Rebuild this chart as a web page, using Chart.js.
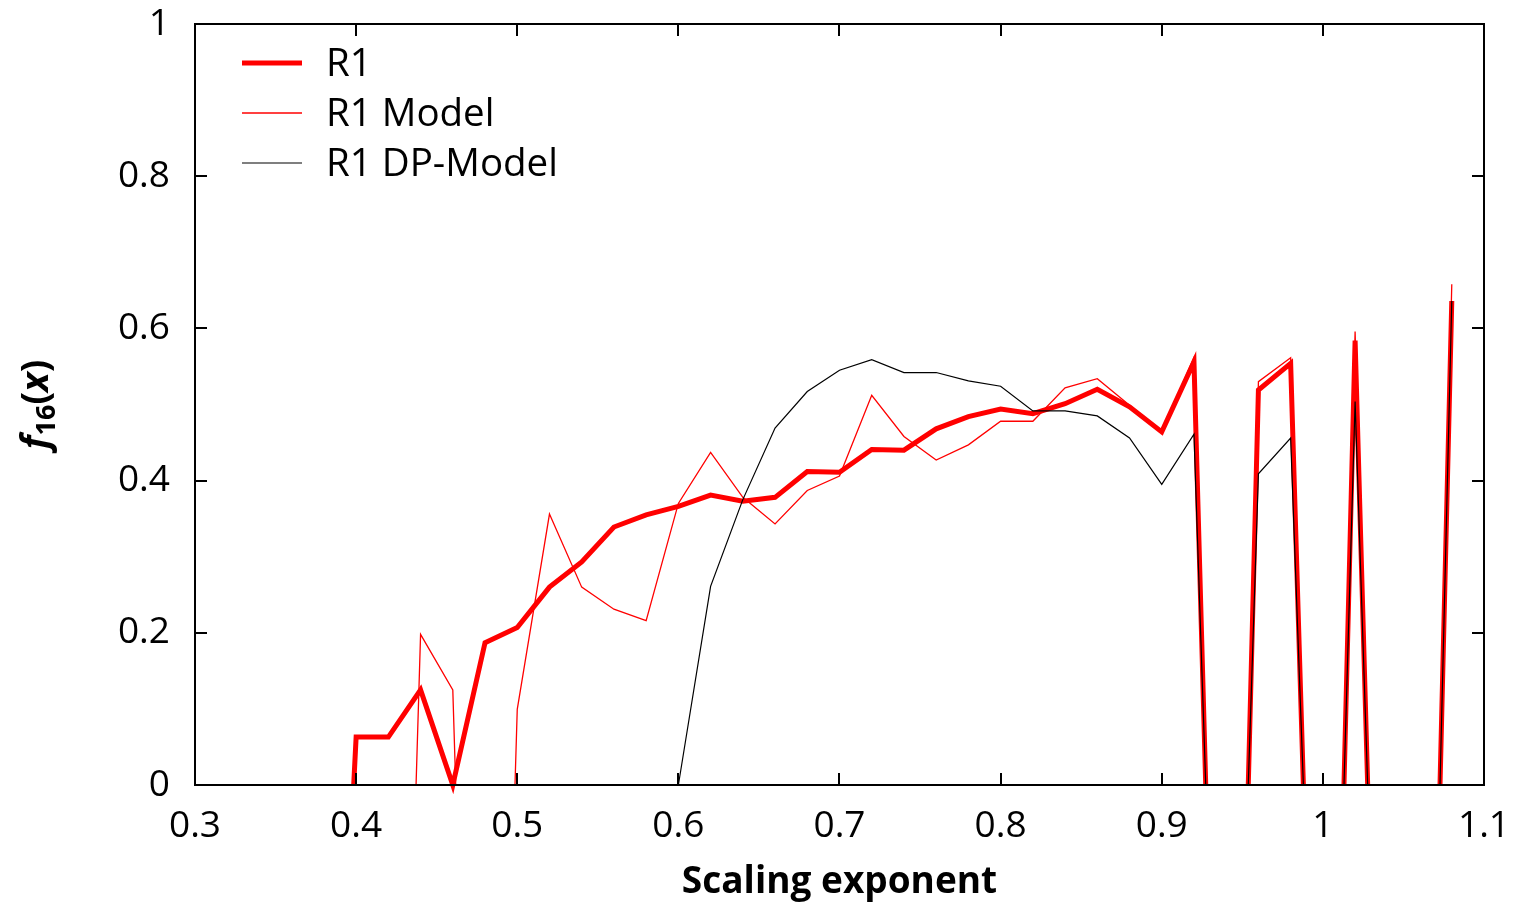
<!DOCTYPE html>
<html lang="en">
<head>
  <meta charset="UTF-8" />
  <title>f16(x) vs scaling exponent</title>
  <script src="https://cdn.jsdelivr.net/npm/chart.js"></script>
  <style>
    body {
      margin: 0;
      background: #fff;
    }
    #wrap {
      width: 1522px;
      height: 906px;
      position: relative;
    }
  </style>
</head>
<body>
  <div id="wrap">
    <canvas id="chart"></canvas>
  </div>

  <script>
    const xTicks = [0.3, 0.4, 0.5, 0.6, 0.7, 0.8, 0.9, 1, 1.1];
    const yTicks = [0, 0.2, 0.4, 0.6, 0.8, 1];

    // null y = line leaves the plot (below 0) and is not drawn
    const r1X = [0.3985, 0.40, 0.42, 0.44, 0.46, 0.48, 0.50, 0.52, 0.54, 0.56, 0.58, 0.60, 0.62, 0.64, 0.66,
      0.68, 0.70, 0.72, 0.74, 0.76, 0.78, 0.80, 0.82, 0.84, 0.86, 0.88, 0.90, 0.92, 0.9273, 0.94,
      0.9537, 0.96, 0.98, 0.9879, 1.0, 1.0131, 1.02, 1.0278, 1.05, 1.0727, 1.08];
    const r1Y = [0, 0.063, 0.063, 0.125, 0, 0.187, 0.207, 0.26, 0.293, 0.339, 0.355, 0.366, 0.381, 0.373, 0.378,
      0.412, 0.411, 0.441, 0.440, 0.468, 0.484, 0.494, 0.488, 0.501, 0.520, 0.497, 0.464, 0.556, 0, null,
      0, 0.519, 0.554, 0, null, 0, 0.584, 0, null, 0, 0.636];

    const modelX = [0.4372, 0.44, 0.46, 0.4618, 0.48, 0.4986, 0.50, 0.52, 0.54, 0.56, 0.58, 0.60, 0.62, 0.64,
      0.66, 0.68, 0.70, 0.72, 0.74, 0.76, 0.78, 0.80, 0.82, 0.84, 0.86, 0.88, 0.90, 0.92, 0.9273, 0.94,
      0.9537, 0.96, 0.98, 0.9879, 1.0, 1.0131, 1.02, 1.0278, 1.05, 1.0727, 1.08];
    const modelY = [0, 0.198, 0.125, 0, null, 0, 0.0995, 0.356, 0.26, 0.231, 0.216, 0.37, 0.437, 0.378,
      0.343, 0.387, 0.406, 0.512, 0.458, 0.427, 0.447, 0.478, 0.478, 0.522, 0.534, 0.499, 0.464, 0.562, 0, null,
      0, 0.53, 0.5615, 0, null, 0, 0.596, 0, null, 0, 0.658];

    const dpX = [0.58, 0.60, 0.62, 0.64, 0.66, 0.68, 0.70, 0.72, 0.74, 0.76, 0.78, 0.80, 0.82, 0.84, 0.86,
      0.88, 0.90, 0.92, 0.9273, 0.94, 0.9537, 0.96, 0.98, 0.9879, 1.0, 1.0131, 1.02, 1.0278, 1.05, 1.0727, 1.08];
    const dpY = [0, 0, 0.261, 0.375, 0.469, 0.517, 0.545, 0.559, 0.542, 0.542, 0.531, 0.524, 0.4915, 0.4915, 0.485,
      0.456, 0.395, 0.461, 0, null, 0, 0.409, 0.456, 0, null, 0, 0.504, 0, null, 0, 0.636];

    const FONT = '"Open Sans", "DejaVu Sans", sans-serif';

    function pts(xs, ys) {
      return xs.map((x, i) => ({ x: x, y: ys[i] }));
    }

    // gnuplot-like box with inward ticks on all four sides
    const frame = {
      id: 'frame',
      afterDatasetsDraw(chart) {
        const { ctx, chartArea: a, scales } = chart;
        ctx.save();
        ctx.strokeStyle = '#000';
        ctx.lineWidth = 2;
        ctx.beginPath();
        xTicks.forEach(v => {
          const px = Math.round(scales.x.getPixelForValue(v));
          ctx.moveTo(px, a.bottom); ctx.lineTo(px, a.bottom - 12);
          ctx.moveTo(px, a.top); ctx.lineTo(px, a.top + 12);
        });
        yTicks.forEach(v => {
          const py = Math.round(scales.y.getPixelForValue(v));
          ctx.moveTo(a.left, py); ctx.lineTo(a.left + 12, py);
          ctx.moveTo(a.right, py); ctx.lineTo(a.right - 12, py);
        });
        ctx.stroke();
        ctx.strokeRect(a.left, a.top, a.right - a.left, a.bottom - a.top);
        ctx.restore();
      }
    };

    const extras = {
      id: 'extras',
      afterDraw(chart) {
        const { ctx, chartArea: a } = chart;
        ctx.save();

        // legend, top-left inside the box
        chart.data.datasets.forEach((ds, i) => {
          const y = 63 + i * 50;
          ctx.strokeStyle = ds.borderColor;
          ctx.lineWidth = ds.borderWidth;
          ctx.beginPath();
          ctx.moveTo(242, y);
          ctx.lineTo(302, y);
          ctx.stroke();
          ctx.fillStyle = '#000';
          ctx.font = '38.5px ' + FONT;
          ctx.textAlign = 'left';
          ctx.textBaseline = 'middle';
          ctx.fillText(ds.label, 326, y + 2);
        });

        // x title
        ctx.fillStyle = '#000';
        ctx.font = 'bold 37px ' + FONT;
        ctx.textAlign = 'center';
        ctx.textBaseline = 'middle';
        ctx.fillText('Scaling exponent', (a.left + a.right) / 2, 882);

        // y title f_16(x), rotated
        const parts = [
          { t: 'f', f: 'italic bold 37px ' + FONT, dy: 0 },
          { t: '16', f: 'bold 27px ' + FONT, dy: 7 },
          { t: '(', f: 'bold 37px ' + FONT, dy: 0 },
          { t: 'x', f: 'italic bold 37px ' + FONT, dy: 0 },
          { t: ')', f: 'bold 37px ' + FONT, dy: 0 }
        ];
        let w = 0;
        parts.forEach(p => { ctx.font = p.f; p.w = ctx.measureText(p.t).width; w += p.w; });
        ctx.translate(48, (a.top + a.bottom) / 2);
        ctx.rotate(-Math.PI / 2);
        ctx.textAlign = 'left';
        ctx.textBaseline = 'alphabetic';
        let x = -w / 2;
        parts.forEach(p => {
          ctx.font = p.f;
          ctx.fillText(p.t, x, p.dy);
          x += p.w;
        });
        ctx.restore();
      }
    };

    new Chart(document.getElementById('chart'), {
      type: 'line',
      data: {
        datasets: [
          { label: 'R1', data: pts(r1X, r1Y), borderColor: '#ff0000', borderWidth: 5, order: 3 },
          { label: 'R1 Model', data: pts(modelX, modelY), borderColor: '#ff0000', borderWidth: 1.3, order: 2 },
          { label: 'R1 DP-Model', data: pts(dpX, dpY), borderColor: '#000000', borderWidth: 1.2, order: 1 }
        ]
      },
      options: {
        responsive: true,
        maintainAspectRatio: false,
        animation: false,
        events: [],
        layout: { padding: { left: 0, top: 24, right: 38, bottom: 0 } },
        elements: {
          point: { radius: 0 },
          line: { tension: 0, fill: false, borderJoinStyle: 'miter' }
        },
        datasets: { line: { clip: false, spanGaps: false } },
        scales: {
          x: {
            type: 'linear',
            min: 0.3,
            max: 1.1,
            afterBuildTicks: s => { s.ticks = xTicks.map(v => ({ value: v })); },
            afterFit: s => { s.height = 121; s.paddingLeft = 0; s.paddingRight = 0; },
            grid: { display: false, drawTicks: false },
            border: { display: false },
            ticks: {
              color: '#000',
              padding: 19,
              maxRotation: 0,
              font: { family: FONT, size: 37 },
              callback: v => String(v)
            }
          },
          y: {
            type: 'linear',
            min: 0,
            max: 1,
            afterBuildTicks: s => { s.ticks = yTicks.map(v => ({ value: v })); },
            afterFit: s => { s.width = 195; s.paddingTop = 0; s.paddingBottom = 0; },
            grid: { display: false, drawTicks: false },
            border: { display: false },
            ticks: {
              color: '#000',
              padding: 25,
              font: { family: FONT, size: 37 },
              callback: v => String(v)
            }
          }
        },
        plugins: {
          legend: { display: false },
          tooltip: { enabled: false }
        }
      },
      plugins: [frame, extras]
    });
  </script>
</body>
</html>
